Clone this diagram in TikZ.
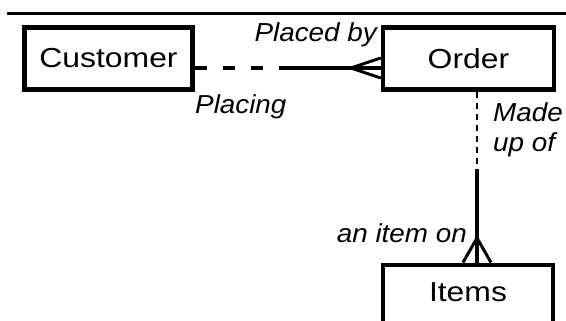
\documentclass[tikz,border=0pt]{standalone}
\usepackage{fontspec}
\setmainfont{Liberation Sans}
\newfontfamily\boxfont{Liberation Sans}[FakeStretch=1.16]
\newfontfamily\lblfont{Liberation Sans}[FakeStretch=1.07]
\usetikzlibrary{calc}

\begin{document}
\begin{tikzpicture}[x=1pt,y=-1pt,
    entity/.style={draw,line width=4.5pt,inner sep=0pt,minimum height=62pt,
      font=\boxfont\fontsize{27.5}{30}\selectfont},
    rolelabel/.style={inner sep=0pt,font=\lblfont\itshape\fontsize{26}{30}\selectfont},
    must/.style={line width=4.5pt},
    may/.style={line width=4pt,dash pattern=on 12pt off 16pt},
    mayv/.style={line width=2.5pt,dash pattern=on 6pt off 5pt},
    foot/.style={line width=3pt}]
    \useasboundingbox (0,0) rectangle (566,321);
    \clip (0,0) rectangle (566,321);
    \draw[line width=3pt] (7,14) -- (566,14);
    % entities
    \node[entity,minimum width=168pt] (cust) at (108.5,58.5) {Customer};
    \node[entity,minimum width=171pt] (order) at (468.5,58.5) {Order};
    \node[entity,minimum width=170pt,text depth=7pt,anchor=north] (items) at (468,262.5) {Items};
    % customer places orders
    \coordinate (placeA) at ([yshift=-9.5pt]cust.east);
    \coordinate (placeB) at ([yshift=-9.5pt]order.west);
    \draw[may] (placeA) -- ($(placeA)!0.5!(placeB)$);
    \draw[must] ($(placeA)!0.5!(placeB)$) -- (placeB);
    \draw[foot] ([xshift=-30pt]placeB) -- ([yshift=10pt]placeB)
                ([xshift=-30pt]placeB) -- ([yshift=-10pt]placeB);
    % order made up of items
    \coordinate (madeA) at ([xshift=8.5pt]order.south);
    \coordinate (madeB) at ([xshift=9pt]items.north);
    \draw[mayv] (madeA) -- ($(madeA)!0.45!(madeB)$);
    \draw[must] ($(madeA)!0.45!(madeB)$) -- (madeB);
    \draw[foot] ([yshift=24.5pt]madeB) -- ([xshift=-14pt]madeB)
                ([yshift=24.5pt]madeB) -- ([xshift=14pt]madeB);
    % role names
    \node[rolelabel,anchor=base east] (placedby) at (377,42) {Placed by};
    \node[rolelabel,anchor=base west] (placing) at (195,114) {Placing};
    \node[rolelabel,anchor=base west] (made) at (493,122) {Made};
    \node[rolelabel,anchor=base west] (upof) at (493,152) {up of};
    \node[rolelabel,anchor=base east] (itemon) at (467,243) {an item on};
\end{tikzpicture}
\end{document}
